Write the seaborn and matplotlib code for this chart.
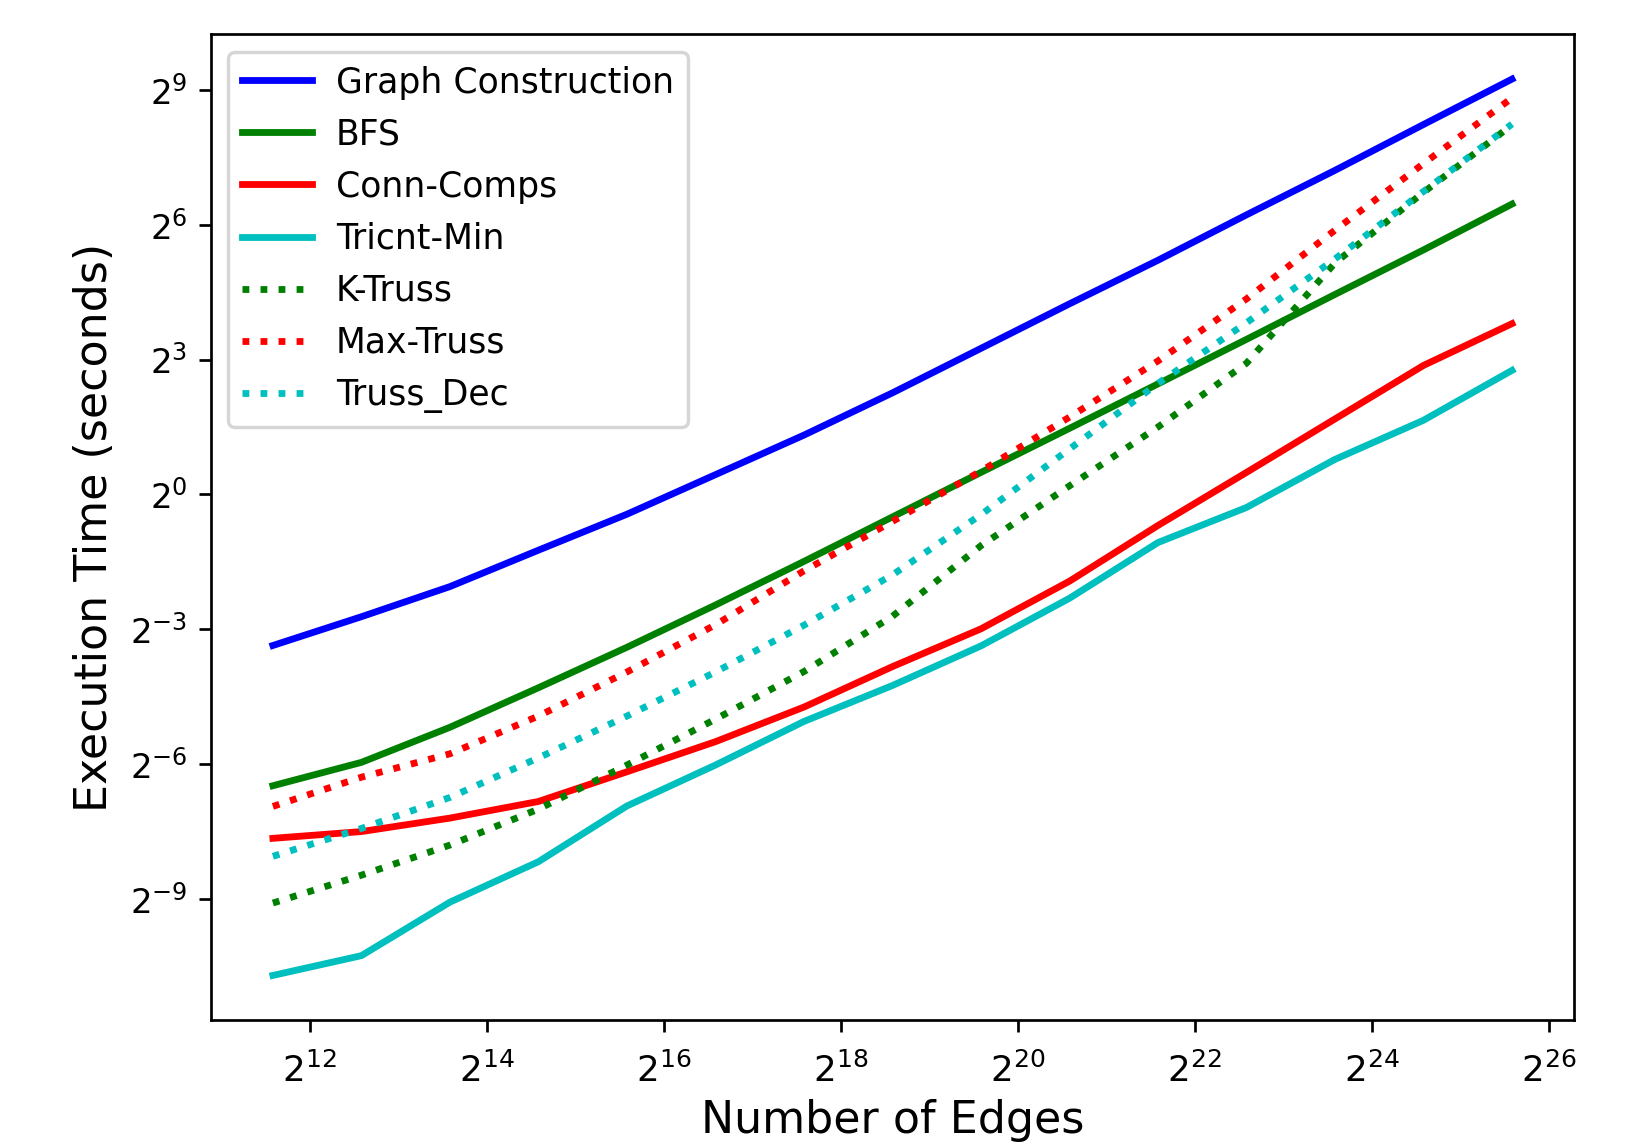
import numpy as np
import pandas as pd
import matplotlib
matplotlib.use("Agg")
import matplotlib.pyplot as plt
import matplotlib.ticker as mticker
import seaborn as sns

# number of edges per graph
edges = [3072, 6144, 12288, 24576, 49152, 98304, 196608, 393216,
         786432, 1572864, 3145728, 6291456, 12582912, 25165824, 50331648]

# execution times as log2(seconds)
graph_construction = [-3.36, -2.72, -2.05, -1.24, -0.44, 0.44, 1.32, 2.26,
                      3.25, 4.24, 5.21, 6.22, 7.21, 8.23, 9.24]
bfs = [-6.48, -5.96, -5.18, -4.30, -3.40, -2.46, -1.49, -0.50,
       0.49, 1.47, 2.46, 3.45, 4.45, 5.44, 6.46]
conn_comps = [-7.65, -7.50, -7.20, -6.83, -6.17, -5.50, -4.73, -3.83,
              -2.99, -1.93, -0.69, 0.49, 1.68, 2.87, 3.80]
tricnt_min = [-10.70, -10.26, -9.07, -8.17, -6.93, -6.02, -5.05, -4.25,
              -3.37, -2.31, -1.07, -0.29, 0.78, 1.65, 2.76]
k_truss = [-9.09, -8.47, -7.80, -7.00, -6.02, -5.00, -3.94, -2.71,
           -1.14, 0.19, 1.50, 2.92, 5.15, 6.72, 8.22]
max_truss = [-6.94, -6.29, -5.77, -4.93, -3.95, -2.90, -1.70, -0.60,
             0.52, 1.72, 2.97, 4.35, 5.88, 7.36, 8.82]
truss_dec = [-8.05, -7.43, -6.74, -5.86, -4.93, -3.95, -2.91, -1.79,
             -0.45, 1.01, 2.47, 3.82, 5.24, 6.74, 8.24]

series = [
    ("Graph Construction", graph_construction, "b", "-"),
    ("BFS", bfs, "g", "-"),
    ("Conn-Comps", conn_comps, "r", "-"),
    ("Tricnt-Min", tricnt_min, "c", "-"),
    ("K-Truss", k_truss, "g", ":"),
    ("Max-Truss", max_truss, "r", ":"),
    ("Truss_Dec", truss_dec, "c", ":"),
]

dpi = 245
fig, ax = plt.subplots(figsize=(1629 / dpi, 1143 / dpi), dpi=dpi)
fig.subplots_adjust(left=0.1295, right=0.9662, bottom=0.1074, top=0.970)

for name, vals, col, ls in series:
    df = pd.DataFrame({"edges": edges, "time": 2.0 ** np.array(vals)})
    sns.lineplot(x="edges", y="time", data=df, ax=ax, color=col,
                 linestyle=ls, linewidth=2, label=name)

ax.set_xscale("log", base=2)
ax.set_yscale("log", base=2)
ax.xaxis.set_major_locator(mticker.FixedLocator([2.0 ** k for k in range(12, 27, 2)]))
ax.yaxis.set_major_locator(mticker.FixedLocator([2.0 ** k for k in range(-9, 10, 3)]))
ax.xaxis.set_major_formatter(mticker.LogFormatterSciNotation(base=2))
ax.yaxis.set_major_formatter(mticker.LogFormatterSciNotation(base=2))
ax.xaxis.set_minor_locator(mticker.NullLocator())
ax.yaxis.set_minor_locator(mticker.NullLocator())
ax.tick_params(axis="y", labelsize=10)
ax.tick_params(axis="x", labelsize=10.5, pad=6)

ax.set_xlabel("Number of Edges", fontsize=13, labelpad=3)
ax.set_ylabel("Execution Time (seconds)", fontsize=13)
ax.legend(loc="upper left", fontsize=10.2, labelspacing=0.52,
          handletextpad=0.7)

plt.savefig("out.png", dpi=dpi)
